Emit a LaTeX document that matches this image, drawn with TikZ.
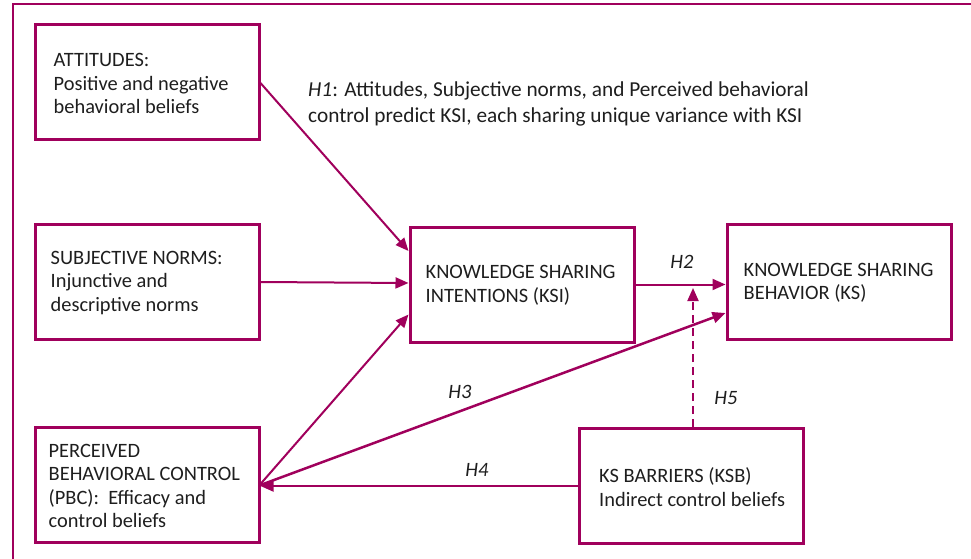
\documentclass[tikz,border=0pt]{standalone}
\usepackage{fontspec}
\setmainfont{Carlito}
\usetikzlibrary{arrows.meta,calc}
\definecolor{plum}{RGB}{160,0,92}
\definecolor{ink}{RGB}{30,30,30}
\begin{document}
\begin{tikzpicture}[x=1pt,y=-1pt,
  box/.style={draw=plum,line width=3pt,minimum width=224pt,minimum height=115pt,inner sep=0pt},
  txt/.style={anchor=west,align=left,inner sep=0pt,text=ink,font=\fontsize{20.4}{23.5}\selectfont},
  lab/.style={text=ink,font=\fontsize{20.4}{24}\selectfont\itshape,inner sep=0pt},
  arr/.style={draw=plum,line width=2pt,-{Triangle[length=13pt,width=11pt]}}]
\useasboundingbox (0,0) rectangle (971,559);
\clip (0,0) rectangle (971,559);
\draw[plum,line width=2pt] (13,4) rectangle (990,580);

\node[box] (att) at (147,82) {};
\node[box] (sn)  at (147,282) {};
\node[box] (pbc) at (147,485) {};
\node[box] (ksi) at (522,284.5) {};
\node[box] (ks)  at (839,282) {};
\node[box] (ksb) at (691.5,486) {};

\node[txt] (attt) at ([xshift=20pt,yshift=-1.5pt]att.west) {ATTITUDES:\\Positive and negative\\behavioral beliefs};
\node[txt] (snt) at ([xshift=17pt,yshift=-1pt]sn.west) {SUBJECTIVE NORMS:\\Injunctive and\\descriptive norms};
\node[txt] (pbct) at ([xshift=15pt,yshift=-1pt]pbc.west) {PERCEIVED\\BEHAVIORAL CONTROL\\(PBC):\ \ Efficacy and\\control beliefs};
\node[txt] (ksit) at ([xshift=17pt,yshift=-1pt]ksi.west) {KNOWLEDGE SHARING\\INTENTIONS (KSI)};
\node[txt] (kst) at ([xshift=18pt,yshift=-1pt]ks.west) {KNOWLEDGE SHARING\\BEHAVIOR (KS)};
\node[txt] (ksbt) at ([xshift=21pt,yshift=-1pt]ksb.west) {KS BARRIERS (KSB)\\Indirect control beliefs};

\node[anchor=west,align=left,inner sep=0pt,text=ink,font=\fontsize{21.3}{26.5}\selectfont] (h1) at (308,104)
  {\textit{H1}: Attitudes, Subjective norms, and Perceived behavioral\\control predict KSI, each sharing unique variance with KSI};

\draw[arr] ([yshift=-1pt]att.east) -- ([yshift=33.5pt]ksi.west);
\draw[arr] (sn.east) -- ([yshift=1.5pt]ksi.west);
\draw[arr] ([yshift=1pt]pbc.east) -- ([yshift=-30pt]ksi.west);
\draw[arr,line width=2.5pt] (pbc.east) -- ([yshift=-31pt]ks.west);
\draw[arr] (ksb.west) -- (ksb.west -| pbc.east);
\draw[arr] (ksi.east) -- (ksi.east -| ks.west);
\coordinate (h5end) at (693,288);
\draw[arr,dash pattern=on 8pt off 5pt] ([xshift=1.5pt]ksb.north) -- (h5end);

\node[lab] (h2) at (682,262) {H2};
\node[lab] (h3) at (460,392) {H3};
\node[lab] (h4) at (477,470) {H4};
\node[lab] (h5) at (726,398) {H5};
\end{tikzpicture}
\end{document}
